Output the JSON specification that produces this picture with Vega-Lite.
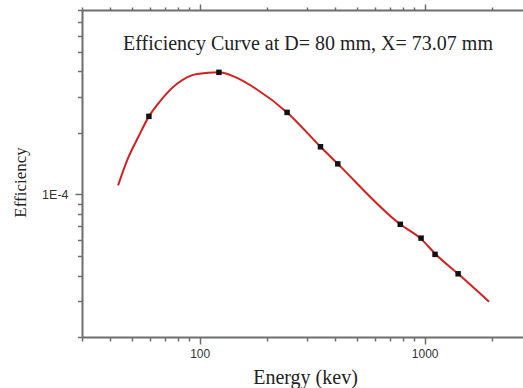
{
  "$schema": "https://vega.github.io/schema/vega-lite/v6.json",
  "width": 442,
  "height": 327,
  "autosize": "none",
  "padding": {"left": 82, "top": 10, "right": 0, "bottom": 51},
  "background": "white",
  "config": {"view": {"stroke": null}},
  "title": {
    "text": "Efficiency Curve at D= 80 mm, X= 73.07 mm",
    "font": "Liberation Serif",
    "fontSize": 20,
    "fontWeight": "normal",
    "color": "#222222",
    "frame": "group",
    "anchor": "middle",
    "baseline": "alphabetic",
    "offset": -67,
    "dx": 5
  },
  "datasets": {
    "curve": [
      {"E": 43.4, "Eff": 0.0001107},
      {"E": 48, "Eff": 0.000150},
      {"E": 53.5, "Eff": 0.000192},
      {"E": 59.5, "Eff": 0.000241},
      {"E": 65.7, "Eff": 0.000280},
      {"E": 79.3, "Eff": 0.000348},
      {"E": 97.4, "Eff": 0.000389},
      {"E": 121.8, "Eff": 0.000396},
      {"E": 144, "Eff": 0.000375},
      {"E": 177, "Eff": 0.000330},
      {"E": 244.7, "Eff": 0.000252},
      {"E": 344.3, "Eff": 0.000171},
      {"E": 411, "Eff": 0.000141},
      {"E": 778.9, "Eff": 0.0000713},
      {"E": 964, "Eff": 0.0000605},
      {"E": 1112, "Eff": 0.0000512},
      {"E": 1408, "Eff": 0.0000408},
      {"E": 1932, "Eff": 0.0000298}
    ],
    "measured": [
      {"E": 59.5, "Eff": 0.000241},
      {"E": 121.8, "Eff": 0.000396},
      {"E": 244.7, "Eff": 0.000252},
      {"E": 344.3, "Eff": 0.000171},
      {"E": 411, "Eff": 0.000141},
      {"E": 778.9, "Eff": 0.0000713},
      {"E": 964, "Eff": 0.0000610},
      {"E": 1112, "Eff": 0.0000508},
      {"E": 1408, "Eff": 0.0000408}
    ]
  },
  "layer": [
    {
      "data": {"name": "curve"},
      "mark": {"type": "line", "color": "#d42020", "strokeWidth": 2, "interpolate": "monotone", "clip": true},
      "encoding": {
        "x": {
          "field": "E",
          "type": "quantitative",
          "scale": {"type": "log", "domain": [30, 2763], "nice": false},
          "axis": {
            "orient": "bottom",
            "title": "Energy (kev)",
            "titleFont": "Liberation Serif",
            "titleFontSize": 20,
            "titleFontWeight": "normal",
            "titleColor": "#222222",
            "titleBaseline": "alphabetic",
            "titleY": 46,
            "titleX": 223,
            "values": [30, 40, 50, 60, 70, 80, 90, 100, 200, 300, 400, 500, 600, 700, 800, 900, 1000, 2000],
            "labelExpr": "datum.value == 100 || datum.value == 1000 ? datum.value + '' : ''",
            "labelFont": "Liberation Sans",
            "labelFontSize": 12,
            "labelColor": "#333333",
            "labelPadding": 4,
            "grid": false,
            "domainColor": "#6e6e6e",
            "domainWidth": 2,
            "tickColor": "#6e6e6e",
            "tickWidth": 1.5,
            "tickSize": {"condition": {"test": "datum.value == 100 || datum.value == 1000", "value": 7}, "value": 4}
          }
        },
        "y": {
          "field": "Eff",
          "type": "quantitative",
          "scale": {"type": "log", "domain": [0.00002, 0.0008], "nice": false},
          "axis": {
            "orient": "left",
            "title": "Efficiency",
            "titleFont": "Liberation Serif",
            "titleFontSize": 17,
            "titleFontWeight": "normal",
            "titleColor": "#222222",
            "titleBaseline": "alphabetic",
            "titleAngle": -90,
            "titleX": -57,
            "titleY": 172,
            "values": [0.00002, 0.00003, 0.00004, 0.00005, 0.00006, 0.00007, 0.00008, 0.00009, 0.0001, 0.0002, 0.0003, 0.0004, 0.0005, 0.0006, 0.0007, 0.0008],
            "labelExpr": "abs(datum.value - 0.0001) < 1e-9 ? '1E-4' : ''",
            "labelFont": "Liberation Sans",
            "labelFontSize": 12.5,
            "labelColor": "#333333",
            "labelPadding": 7,
            "grid": false,
            "domainColor": "#6e6e6e",
            "domainWidth": 2,
            "tickColor": "#6e6e6e",
            "tickWidth": 1.5,
            "tickSize": {"condition": {"test": "abs(datum.value - 0.0001) < 1e-9", "value": 7}, "value": 4.5}
          }
        }
      }
    },
    {
      "data": {"name": "measured"},
      "mark": {"type": "square", "color": "#111111", "size": 30, "opacity": 1, "filled": true},
      "encoding": {
        "x": {
          "field": "E",
          "type": "quantitative",
          "scale": {"type": "log", "domain": [30, 2763], "nice": false},
          "axis": {
            "orient": "top",
            "title": null,
            "ticks": true,
            "domain": true,
            "domainColor": "#6e6e6e",
            "domainWidth": 2,
            "values": [30, 40, 50, 60, 70, 80, 90, 100, 200, 300, 400, 500, 600, 700, 800, 900, 1000, 2000],
            "labels": false,
            "grid": false,
            "tickColor": "#6e6e6e",
            "tickWidth": 1.5,
            "tickSize": {"condition": {"test": "datum.value == 100 || datum.value == 1000", "value": 6}, "value": 3}
          }
        },
        "y": {
          "field": "Eff",
          "type": "quantitative",
          "scale": {"type": "log", "domain": [0.00002, 0.0008], "nice": false},
          "axis": null
        }
      }
    }
  ],
  "resolve": {"axis": {"x": "independent", "y": "independent"}}
}
